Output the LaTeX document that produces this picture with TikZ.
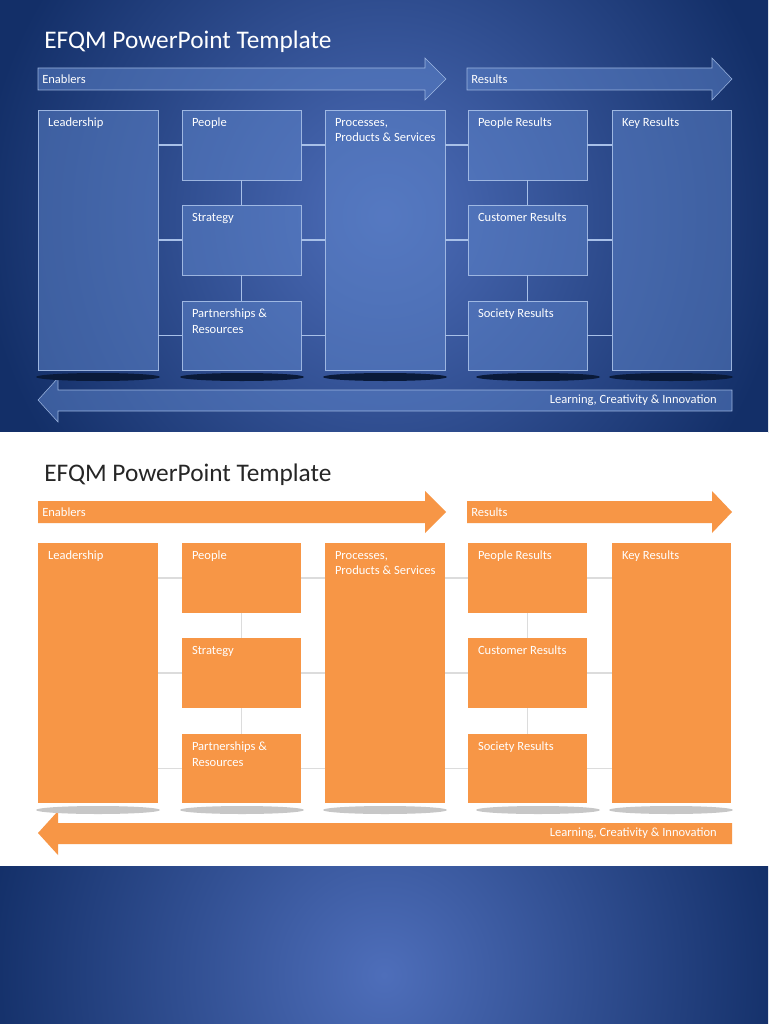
\documentclass[tikz,border=0pt]{standalone}
\usepackage{fontspec}
\setmainfont{Carlito}
\usetikzlibrary{calc}
\definecolor{bgin}{HTML}{4E6EBA}
\definecolor{bgout}{HTML}{132F68}
\definecolor{bfill}{HTML}{5C82C8}
\definecolor{bline}{HTML}{A8C0E8}
\definecolor{ofill}{HTML}{F79646}
\definecolor{conn}{HTML}{DCDCDC}
\tikzset{
  box/.style={draw=none,fill=ofill,inner sep=0pt},
  bluebox/.style={draw=bline,fill=bfill,fill opacity=0.55,draw opacity=0.9,inner sep=0pt},
  lbl/.style={inner sep=0pt,font=\fontsize{9.4}{11.5}\selectfont,align=left,text=white},
  ttl/.style={inner sep=0pt,font=\fontsize{19}{21}\selectfont,anchor=west},
  cn/.style={line width=0.9pt},
}
\newcommand{\bx}[7]{% style, name, x1,y1,x2,y2, text
  \pgfmathsetmacro{\bw}{(#5-#3)*0.75}\pgfmathsetmacro{\bh}{(#6-#4)*0.75}
  \node[#1,minimum width=\bw pt,minimum height=\bh pt] (#2) at ({(#3+#5)/2},{(#4+#6)/2}) {};
  \node[lbl,anchor=north west] (#2-t) at ($(#2.north west)+(10,8)$) {#7};
}
\newcommand{\slide}[5]{% prefix, boxstyle, connector color, shadow color, y0
\begin{scope}[shift={(0,#5)}]
  \path[#2] (38,68) -- (425,68) -- (425,58) -- (446,79) -- (425,100) -- (425,90) -- (38,90) -- cycle;
  \path[#2] (467,68) -- (712,68) -- (712,58) -- (732,79) -- (712,100) -- (712,90) -- (467,90) -- cycle;
  \path[#2] (732,390) -- (58,390) -- (58,378) -- (38,400) -- (58,422) -- (58,411) -- (732,411) -- cycle;
  \node[lbl,anchor=west] (#1-en) at (42,79) {Enablers};
  \node[lbl,anchor=west] (#1-re) at (471,79) {Results};
  \node[lbl,anchor=east] (#1-li) at (717,400) {Learning, Creativity \& Innovation};
  \foreach \cx/\rx in {98/62,242/62,385/62,538/62,671/62}{
    \fill[#4] (\cx,377) ellipse[x radius=\rx,y radius=4];}
  \bx{#2}{#1-lead}{38}{110}{158}{370}{Leadership}
  \bx{#2}{#1-peop}{182}{110}{301}{180}{People}
  \bx{#2}{#1-strat}{182}{205}{301}{275}{Strategy}
  \bx{#2}{#1-part}{182}{301}{301}{370}{Partnerships \&\\Resources}
  \bx{#2}{#1-proc}{325}{110}{445}{370}{Processes,\\Products \& Services}
  \bx{#2}{#1-pr}{468}{110}{587}{180}{People Results}
  \bx{#2}{#1-cr}{468}{205}{587}{275}{Customer Results}
  \bx{#2}{#1-sr}{468}{301}{587}{370}{Society Results}
  \bx{#2}{#1-kr}{612}{110}{731}{370}{Key Results}
  \foreach \b in {peop,strat,part}{
    \draw[cn,#3] (#1-lead.east |- #1-\b.west) -- (#1-\b.west);
    \draw[cn,#3] (#1-\b.east) -- (#1-proc.west |- #1-\b.east);}
  \foreach \b in {pr,cr,sr}{
    \draw[cn,#3] (#1-proc.east |- #1-\b.west) -- (#1-\b.west);
    \draw[cn,#3] (#1-\b.east) -- (#1-kr.west |- #1-\b.east);}
  \draw[cn,#3] (#1-peop.south) -- (#1-strat.north);
  \draw[cn,#3] (#1-strat.south) -- (#1-part.north);
  \draw[cn,#3] (#1-pr.south) -- (#1-cr.north);
  \draw[cn,#3] (#1-cr.south) -- (#1-sr.north);
\end{scope}}
\begin{document}
\begin{tikzpicture}[x=0.75pt,y=-0.75pt]
\useasboundingbox (0,0) rectangle (768,1024);
\begin{scope}
\clip (0,0) rectangle (768,432);
\shade[inner color=bgin,outer color=bgout] (-20,-200) rectangle (788,632);
\end{scope}
\fill[white] (0,432) rectangle (768,866);
\begin{scope}
\clip (0,866) rectangle (768,1024);
\shade[inner color=bgin,outer color=bgout] (-20,560) rectangle (788,1390);
\end{scope}
\slide{a}{bluebox}{bline}{black!45!bgout}{0}
\node[ttl,text=white] (ta) at (44,42) {EFQM PowerPoint Template};
\slide{b}{box}{conn}{black!22}{433}
\node[ttl,text=black!85] (tb) at (44,475) {EFQM PowerPoint Template};
\end{tikzpicture}
\end{document}
